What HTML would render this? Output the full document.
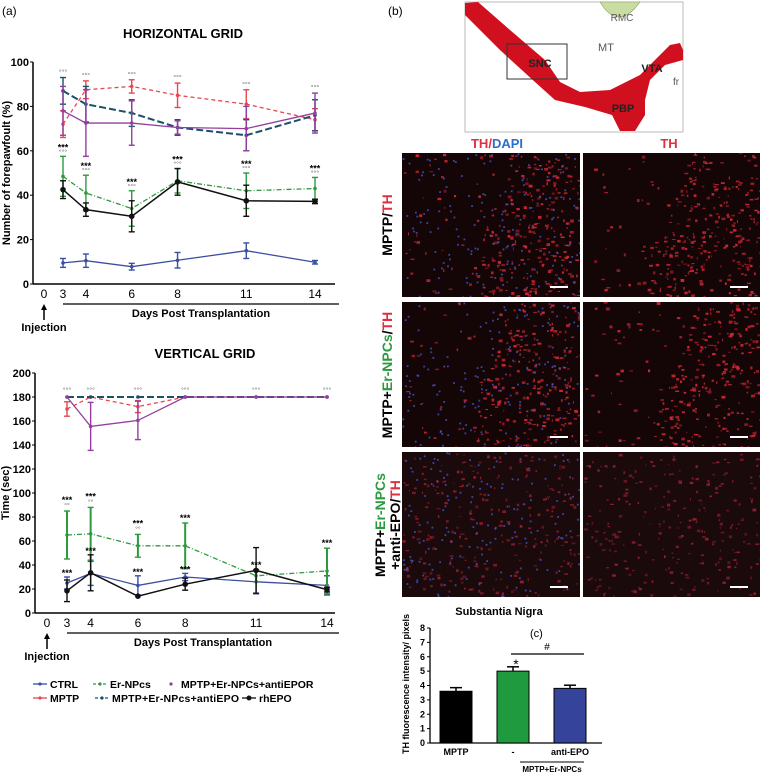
<!DOCTYPE html>
<html><head><meta charset="utf-8"><style>
html,body{margin:0;padding:0;background:#fff;}
svg{display:block;font-family:"Liberation Sans",Arial,sans-serif;}
</style></head><body>
<svg id="fig" width="760" height="774" viewBox="0 0 760 774" xmlns="http://www.w3.org/2000/svg">
<defs id="defs"></defs>
<text x="2" y="15" font-size="12">(a)</text>
<text x="183" y="38" font-size="13" font-weight="bold" text-anchor="middle">HORIZONTAL GRID</text>
<text x="205" y="358" font-size="13" font-weight="bold" text-anchor="middle">VERTICAL GRID</text>
<g id="c1"></g>
<g id="c2"></g>
<g id="legend"></g>
<text x="388" y="15" font-size="12">(b)</text>
<g>
<rect x="465" y="2" width="218" height="130" fill="#fff" stroke="#aaa" stroke-width="0.8"/>
<path d="M600,2 Q618,32 640,2 Z" fill="#c9dda2" stroke="#8a9a70" stroke-width="0.6"/>
<text x="622" y="21" font-size="10" fill="#555" text-anchor="middle">RMC</text>
<polygon fill="#d0101e" points="465,3 478,2 510,30 545,60 560,82 580,92 610,90 640,75 670,45 680,43 683,50 683,60 665,65 650,80 645,100 645,115 635,131 620,131 612,115 585,107 555,100 535,82 500,50 465,15"/>
<rect x="507" y="44" width="60" height="35" fill="none" stroke="#333" stroke-width="1"/>
<text x="540" y="67" font-size="11" font-weight="bold" text-anchor="middle" fill="#222">SNC</text>
<text x="606" y="51" font-size="11" fill="#555" text-anchor="middle">MT</text>
<text x="652" y="72" font-size="11" font-weight="bold" text-anchor="middle" fill="#222">VTA</text>
<text x="676" y="85" font-size="10" fill="#555" text-anchor="middle">fr</text>
<text x="623" y="112" font-size="11" font-weight="bold" text-anchor="middle" fill="#222">PBP</text>
</g>
<text x="497" y="148" font-size="13" font-weight="bold" text-anchor="middle"><tspan fill="#e03040">TH</tspan><tspan fill="#e03040">/</tspan><tspan fill="#2a6fd0">DAPI</tspan></text>
<text x="669" y="148" font-size="13" font-weight="bold" text-anchor="middle" fill="#e03040">TH</text>
<g id="imgs"></g>
<text transform="translate(392,225) rotate(-90)" font-size="14" font-weight="bold" text-anchor="middle">MPTP/<tspan fill="#e03040">TH</tspan></text>
<text transform="translate(392,375) rotate(-90)" font-size="14" font-weight="bold" text-anchor="middle">MPTP+<tspan fill="#2a9a3e">Er-NPCs</tspan>/<tspan fill="#e03040">TH</tspan></text>
<text transform="translate(385,525) rotate(-90)" font-size="14" font-weight="bold" text-anchor="middle">MPTP+<tspan fill="#2a9a3e">Er-NPCs</tspan></text>
<text transform="translate(400,525) rotate(-90)" font-size="14" font-weight="bold" text-anchor="middle">+anti-EPO/<tspan fill="#e03040">TH</tspan></text>
<text x="499" y="615" font-size="11" font-weight="bold" text-anchor="middle">Substantia Nigra</text>
<text x="530" y="637" font-size="11">(c)</text>
<g id="c3"></g>
</svg>
<script>
// ---------- data ----------
const days=[3,4,6,8,11,14];
const hCtrl=[9.5,10.5,7.8,10.7,15,9.8], hCtrlE=[2,3,1.5,3.5,3.5,0.8];
const hMptp=[72,87.5,89,85,81,74], hMptpE=[6,4,3,5.5,6.5,5];
const hEr=[48.5,41,34,46.5,42,43], hErE=[9,8,8,5.5,8,5];
const hAepo=[87,81,77,70.5,67,76], hAepoE=[6,8,6,3.5,7,7];
const hAepor=[78,72.5,72.5,70.5,70,77], hAeporE=[11,15,10,3,10,9];
const hRh=[42.5,33.5,30.5,46,37.5,37.2], hRhE=[4,3,7,6,7,1];
const hTicks=[0,20,40,60,80,100];
const vCtrl=[25,33,23,30,26,23], vCtrlE=[5,10,8,3,10,8];
const vMptp=[170,180,172,180,180,180], vMptpE=[6,0,5,0,0,0];
const vEr=[65,66,56,56,31,35], vErE=[20,22,9.5,19,5,19];
const vAepo=[180,180,180,180,180,180], vAepoE=[0,0,0,0,0,0];
const vAepor=[180,155.5,160.5,180,180,180], vAeporE=[0,20,16,0,0,0];
const vRh=[18.5,33.5,14,24,35.5,19.5], vRhE=[9,15,0,5,19,2];
const vTicks=[0,20,40,60,80,100,120,140,160,180,200];
const hStars=["***","***","***","***","***","***"], hCircles=["°°°","°°°","°°°","°°°","°°°","°°°"];
const vStars=["***","***","***","***","***","***"], vCircles=["°°","°°","°°","","",""];
const barCats=["MPTP","-","anti-EPO"], barVals=[3.6,5.0,3.8], barErr=[0.25,0.3,0.22];
const barTicks=[0,1,2,3,4,5,6,7,8];

const NS="http://www.w3.org/2000/svg";
function mk(p,tag,at,txt){const e=document.createElementNS(NS,tag);for(const k in at)e.setAttribute(k,at[k]);if(txt!==undefined)e.textContent=txt;p.appendChild(e);return e;}
const C={ctrl:"#3a4fa0",mptp:"#e8474f",er:"#2e9a3e",aepo:"#1c4f6a",aepor:"#943ea0",rh:"#111"};

function lineChart(g,cfg){
  const X=d=>cfg.x3+(d-3)*(cfg.x14-cfg.x3)/11;
  const Y=v=>cfg.y0-v*(cfg.y0-cfg.yTop)/cfg.max;
  let a=mk(g,"line",{x1:cfg.ax,y1:cfg.yTop,x2:cfg.ax,y2:cfg.y0,stroke:"#000","stroke-width":1.5});
  
  a=mk(g,"line",{x1:cfg.ax,y1:cfg.y0,x2:cfg.axEnd,y2:cfg.y0,stroke:"#000","stroke-width":1.5});
  
  cfg.ticks.forEach(t=>{mk(g,"line",{x1:cfg.ax-3,y1:Y(t),x2:cfg.ax,y2:Y(t),stroke:"#000"});
    const l=mk(g,"text",{x:cfg.ax-4,y:Y(t)+4,"font-size":11,"font-weight":"bold","text-anchor":"end"},t);
    });
  const xl=mk(g,"text",{x:cfg.x0lab,y:cfg.y0+14,"font-size":12,"text-anchor":"middle"},"0");
  
  days.forEach(d=>{const t=mk(g,"text",{x:X(d),y:cfg.y0+14,"font-size":12,"text-anchor":"middle"},d);
    });
  mk(g,"line",{x1:X(3),y1:cfg.y0+20,x2:cfg.axEnd+4,y2:cfg.y0+20,stroke:"#000","stroke-width":1.2});
  const dt=mk(g,"text",{x:(X(3)+cfg.axEnd)/2+2,y:cfg.y0+33,"font-size":11,"font-weight":"bold","text-anchor":"middle"},"Days Post Transplantation");
  
  mk(g,"line",{x1:cfg.x0lab,y1:cfg.y0+36,x2:cfg.x0lab,y2:cfg.y0+24,stroke:"#000","stroke-width":1.5});
  mk(g,"polygon",{points:`${cfg.x0lab-3},${cfg.y0+26} ${cfg.x0lab+3},${cfg.y0+26} ${cfg.x0lab},${cfg.y0+20}`,fill:"#000"});
  const inj=mk(g,"text",{x:cfg.x0lab,y:cfg.y0+47,"font-size":11,"font-weight":"bold","text-anchor":"middle"},"Injection");
  
  const yt=mk(g,"text",{transform:`translate(${cfg.ytx},${(cfg.y0+cfg.yTop)/2}) rotate(-90)`,"font-size":11,"font-weight":"bold","text-anchor":"middle"},cfg.ytitle);
  
  cfg.series.forEach(s=>{
    const sg=mk(g,"g",{});
    
    mk(sg,"polyline",{points:s.v.map((v,i)=>X(days[i])+","+Y(v)).join(" "),fill:"none",stroke:s.c,"stroke-width":s.w||1.3,"stroke-dasharray":s.dash||""});
    s.v.forEach((v,i)=>{const x=X(days[i]);
      if(s.e[i]>0){mk(sg,"line",{x1:x,y1:Y(v+s.e[i]),x2:x,y2:Y(v-s.e[i]),stroke:s.c,"stroke-width":s.ew||1.4});
        [v+s.e[i],v-s.e[i]].forEach(q=>mk(sg,"line",{x1:x-3,y1:Y(q),x2:x+3,y2:Y(q),stroke:s.c,"stroke-width":1.4}));}
      const p=mk(sg,"circle",{cx:x,cy:Y(v),r:s.r||1.8,fill:s.c});
      
    });
  });
  cfg.annot(g,X,Y);
}

lineChart(document.getElementById("c1"),{ax:33,axEnd:335,yTop:62,y0:284,max:100,x3:63,x14:315,x0lab:44,ticks:hTicks,ytx:10,ytitle:"Number of forepawfoult (%)",
 series:[{name:"ctrl",v:hCtrl,e:hCtrlE,c:C.ctrl},{name:"mptp",v:hMptp,e:hMptpE,c:C.mptp,dash:"4,3"},
 {name:"er-npcs",v:hEr,e:hErE,c:C.er,dash:"5,2,1,2"},{name:"anti-epo",v:hAepo,e:hAepoE,c:C.aepo,dash:"7,3",w:2},
 {name:"anti-epor",v:hAepor,e:hAeporE,c:C.aepor},{name:"rhepo",v:hRh,e:hRhE,c:C.rh,r:2.8,w:1.5}],
 annot:(g,X,Y)=>days.forEach((d,i)=>{
   const top=Math.max(hMptp[i]+hMptpE[i],hAepo[i]+hAepoE[i],hAepor[i]+hAeporE[i]);
   mk(g,"text",{x:X(d),y:Y(top)-3,"font-size":7,fill:"#666","text-anchor":"middle"},hCircles[i]);
   const gt=Math.max(hEr[i]+hErE[i],hRh[i]+hRhE[i]);
   mk(g,"text",{x:X(d),y:Y(gt)-2,"font-size":7,fill:"#666","text-anchor":"middle"},hCircles[i]);
   mk(g,"text",{x:X(d),y:Y(gt)-6,"font-size":9,"font-weight":"bold","text-anchor":"middle"},hStars[i]);
 })});

lineChart(document.getElementById("c2"),{ax:35,axEnd:335,yTop:373,y0:613,max:200,x3:67,x14:327,x0lab:47,ticks:vTicks,ytx:9,ytitle:"Time (sec)",
 series:[{name:"ctrl",v:vCtrl,e:vCtrlE,c:C.ctrl},{name:"mptp",v:vMptp,e:vMptpE,c:C.mptp,dash:"4,3"},
 {name:"er-npcs",v:vEr,e:vErE,c:C.er,dash:"5,2,1,2",ew:2},{name:"anti-epo",v:vAepo,e:vAepoE,c:C.aepo,dash:"7,3",w:2},
 {name:"anti-epor",v:vAepor,e:vAeporE,c:C.aepor},{name:"rhepo",v:vRh,e:vRhE,c:C.rh,r:2.8,w:1.5}],
 annot:(g,X,Y)=>days.forEach((d,i)=>{
   mk(g,"text",{x:X(d),y:Y(182)-2,"font-size":7,fill:"#666","text-anchor":"middle"},"°°°");
   const gt=vEr[i]+vErE[i];
   if(vCircles[i]){mk(g,"text",{x:X(d),y:Y(gt)-3,"font-size":7,fill:"#666","text-anchor":"middle"},vCircles[i]);
     mk(g,"text",{x:X(d),y:Y(gt)-8,"font-size":9,"font-weight":"bold","text-anchor":"middle"},vStars[i]);}
   else mk(g,"text",{x:X(d),y:Y(gt)-2,"font-size":9,"font-weight":"bold","text-anchor":"middle"},vStars[i]);
   if(i < 4){const lt=Math.max(vCtrl[i]+vCtrlE[i],vRh[i]+vRhE[i]);
     mk(g,"text",{x:X(d),y:Y(lt)-1,"font-size":9,"font-weight":"bold","text-anchor":"middle"},"***");}
 })});

// legend
const lg=document.getElementById("legend");
const legNames=["CTRL","Er-NPcs","MPTP+Er-NPCs+antiEPOR","MPTP","MPTP+Er-NPcs+antiEPO","rhEPO"];
const legCols=[C.ctrl,C.er,C.aepor,C.mptp,C.aepo,C.rh];
const legPos=[[33,688],[93,688],[164,688],[33,702],[95,702],[242,702]];
legNames.forEach((n,i)=>{const [x,y]=legPos[i];const e=mk(lg,"g",{});
  
  if(i!==2)mk(e,"line",{x1:x,y1:y-4,x2:x+14,y2:y-4,stroke:legCols[i],"stroke-width":1.3,"stroke-dasharray":[0,3,5].includes(i)?"":"3,2"});
  mk(e,"circle",{cx:x+7,cy:y-4,r:i===5?2.5:1.6,fill:legCols[i]});
  mk(e,"text",{x:x+17,y:y,"font-size":10.5,"font-weight":"bold",textLength:i===4?127:null},n);
  });
[...lg.querySelectorAll("text")].forEach(t=>{if(t.getAttribute("textLength")==="null")t.removeAttribute("textLength");});

// microscopy images (decorative texture)
const ig=document.getElementById("imgs");
const defs=document.getElementById("defs");
let seed=7;function rnd(){seed=(seed*16807)%2147483647;return seed/2147483647;}
const rows=[[153,297],[302,447],[452,597]], cols=[[402,580],[583,760]];
rows.forEach((r,ri)=>cols.forEach((c,ci)=>{
  const w=c[1]-c[0],h=r[1]-r[0];
  const cid="clip"+ri+"_"+ci;
  const cp=mk(defs,"clipPath",{id:cid});mk(cp,"rect",{x:c[0],y:r[0],width:w,height:h});
  const box=mk(ig,"g",{"clip-path":"url(#"+cid+")"});
  
  mk(box,"rect",{x:c[0],y:r[0],width:w,height:h,fill:ri===2?"#1a0a0c":"#140606"});
  const n=ri===2?260:520;
  for(let k=0;k !== n;k++){const px=rnd(),py=rnd();
    if(ri !== 2 && px < 0.35+0.25*(1-py) && rnd() < 0.85) continue;
    mk(box,"rect",{x:c[0]+px*w,y:r[0]+py*h,width:1+rnd()*3,height:1+rnd()*2,fill:ri===2?"#9a2030":"#d82838",opacity:0.45+rnd()*0.5});}
  if(ci===0)for(let k=0;k !== 160;k++){mk(box,"rect",{x:c[0]+rnd()*w,y:r[0]+rnd()*h,width:1.8,height:1.8,fill:"#4a5ad8",opacity:0.75});}
  mk(box,"line",{x1:c[1]-30,y1:r[1]-10,x2:c[1]-12,y2:r[1]-10,stroke:"#fff","stroke-width":2});
}));

// bar chart
const bg=document.getElementById("c3");
const bY=v=>743-v*(743-628)/8;
mk(bg,"line",{x1:430,y1:628,x2:430,y2:743,stroke:"#000","stroke-width":1.3});
mk(bg,"line",{x1:430,y1:743,x2:602,y2:743,stroke:"#000","stroke-width":1.3});
barTicks.forEach(t=>{mk(bg,"line",{x1:427,y1:bY(t),x2:430,y2:bY(t),stroke:"#000"});
  const l=mk(bg,"text",{x:425,y:bY(t)+3,"font-size":9,"font-weight":"bold","text-anchor":"end"},t);
  });
const yt3=mk(bg,"text",{transform:"translate(409,684) rotate(-90)","font-size":9,"font-weight":"bold","text-anchor":"middle"},"TH fluorescence intensity/ pixels");

const bCols=["#000","#1f9a3e","#35439a"];
barCats.forEach((c,i)=>{const x=440+i*57,w=32;
  mk(bg,"line",{x1:x+w/2,y1:bY(barVals[i]+barErr[i]),x2:x+w/2,y2:bY(barVals[i]),stroke:"#000","stroke-width":1.5});
  mk(bg,"line",{x1:x+w/2-6,y1:bY(barVals[i]+barErr[i]),x2:x+w/2+6,y2:bY(barVals[i]+barErr[i]),stroke:"#000","stroke-width":1.5});
  const b=mk(bg,"rect",{x:x,y:bY(barVals[i]),width:w,height:743-bY(barVals[i]),fill:bCols[i],stroke:"#000","stroke-width":1});
  
  const l=mk(bg,"text",{x:x+w/2,y:755,"font-size":9,"font-weight":"bold","text-anchor":"middle"},c);
  });
mk(bg,"line",{x1:520,y1:762,x2:584,y2:762,stroke:"#000"});
mk(bg,"text",{x:552,y:772,"font-size":8,"font-weight":"bold","text-anchor":"middle"},"MPTP+Er-NPCs");
mk(bg,"line",{x1:511,y1:654,x2:584,y2:654,stroke:"#000","stroke-width":1.2});
mk(bg,"text",{x:547,y:650,"font-size":10,"text-anchor":"middle"},"#");
mk(bg,"text",{x:516,y:669,"font-size":14,"text-anchor":"middle"},"*");
</script>
</body></html>
